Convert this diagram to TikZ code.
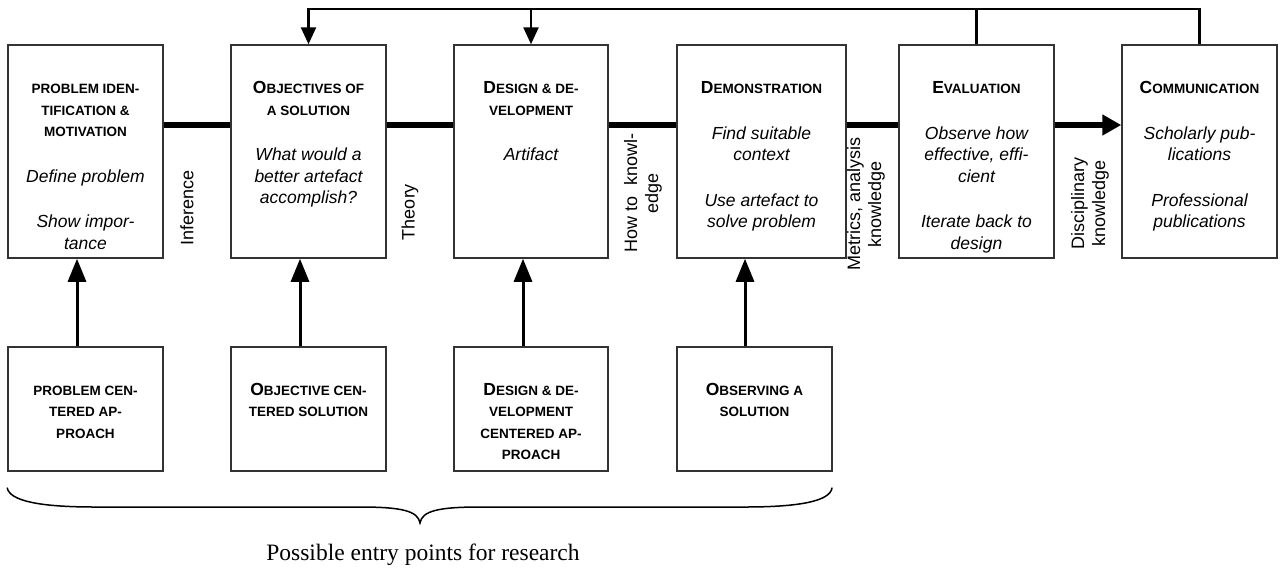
\documentclass[tikz,border=0pt]{standalone}
\usepackage{fontspec}
\setmainfont{Liberation Serif}
\setsansfont{Liberation Sans}
\usetikzlibrary{arrows.meta}

% bold small-caps style headings: optional big first letter, smaller capitals after it
\newcommand\hdfirst[2]{{\upshape\bfseries\fontsize{17.5}{21.5}\selectfont #1\fontsize{13.5}{21.5}\selectfont #2}}
\newcommand\hdall[1]{{\upshape\bfseries\fontsize{13.5}{21.5}\selectfont #1}}
\newcommand\stack[1]{\begin{tabular}[t]{@{}c@{}}#1\end{tabular}}

\begin{document}
\begin{tikzpicture}[x=1pt,y=-1pt,
  box/.style={draw=black!80, line width=1.5pt, inner sep=0pt, minimum height=213pt},
  entry/.style={draw=black!80, line width=1.5pt, inner sep=0pt, minimum height=124pt},
  boxtext/.style={anchor=base, inner sep=0pt, font=\sffamily\itshape\fontsize{17.5}{21.5}\selectfont},
  edge label/.style={rotate=90, align=center, inner sep=0pt, font=\sffamily\fontsize{18}{21}\selectfont},
  flow/.style={line width=6pt},
  feedback/.style={line width=2.5pt, line join=miter},
  downtip/.style={-{Triangle[length=17pt,width=15pt]}},
  uparrow/.style={line width=3pt, -{Triangle[length=23pt,width=18pt]}},
  bracepath/.style={line width=1.5pt, line cap=round}
]
\useasboundingbox (0,0) rectangle (1281,574);

% activity boxes
\node[box, minimum width=155pt] (pim)  at (85.5,151.5) {};
\node[box, minimum width=155pt] (obj)  at (308.5,151.5) {};
\node[box, minimum width=154pt] (dev)  at (531,151.5) {};
\node[box, minimum width=169pt] (demo) at (761.5,151.5) {};
\node[box, minimum width=155pt] (eval) at (976.5,151.5) {};
\node[box, minimum width=155pt] (comm) at (1199.5,151.5) {};

\node[boxtext] (pim-t) at (85.5,93.5) {\stack{\hdall{PROBLEM IDEN-}\\ \hdall{TIFICATION \&}\\ \hdall{MOTIVATION}\\[24pt]
  Define problem\\[24pt] Show impor-\\ tance}};
\node[boxtext] (obj-t) at (308.5,93.5) {\stack{\hdfirst{O}{BJECTIVES OF}\\ \hdall{A SOLUTION}\\[24pt]
  What would a\\ better artefact\\ accomplish?}};
\node[boxtext] (dev-t) at (531,93.5) {\stack{\hdfirst{D}{ESIGN \& DE-}\\ \hdall{VELOPMENT}\\[24pt] Artifact}};
\node[boxtext] (demo-t) at (761.5,93.5) {\stack{\hdfirst{D}{EMONSTRATION}\\[24pt]
  Find suitable\\ context\\[24pt] Use artefact to\\ solve problem}};
\node[boxtext] (eval-t) at (976.5,93.5) {\stack{\hdfirst{E}{VALUATION}\\[24pt]
  Observe how\\ effective, effi-\\ cient\\[24pt] Iterate back to\\ design}};
\node[boxtext] (comm-t) at (1199.5,93.5) {\stack{\hdfirst{C}{OMMUNICATION}\\[24pt]
  Scholarly pub-\\ lications\\[24pt] Professional\\ publications}};

% entry point boxes
\node[entry, minimum width=155pt] (epc)  at (85.5,409) {};
\node[entry, minimum width=155pt] (eob)  at (308.5,409) {};
\node[entry, minimum width=154pt] (edev) at (531,409) {};
\node[entry, minimum width=155pt] (eobs) at (754.5,409) {};

\node[boxtext] (epc-t) at (85.5,395) {\stack{\hdall{PROBLEM CEN-}\\ \hdall{TERED AP-}\\ \hdall{PROACH}}};
\node[boxtext] (eob-t) at (308.5,395) {\stack{\hdfirst{O}{BJECTIVE CEN-}\\ \hdall{TERED SOLUTION}}};
\node[boxtext] (edev-t) at (531,395) {\stack{\hdfirst{D}{ESIGN \& DE-}\\ \hdall{VELOPMENT}\\ \hdall{CENTERED AP-}\\ \hdall{PROACH}}};
\node[boxtext] (eobs-t) at (754.5,395) {\stack{\hdfirst{O}{BSERVING A}\\ \hdall{SOLUTION}}};

% process flow
\coordinate (mainline) at (0,125);
\coordinate (fbk) at (0,9);
\draw[flow] (pim.east |- mainline) -- (obj.west |- mainline);
\draw[flow] (obj.east |- mainline) -- (dev.west |- mainline);
\draw[flow] (dev.east |- mainline) -- (demo.west |- mainline);
\draw[flow] (demo.east |- mainline) -- (eval.west |- mainline);
\draw[flow, -{Triangle[length=19pt,width=20pt]}] (eval.east |- mainline) -- (comm.west |- mainline);

% labels on the flow
\node[edge label] (l-inf) at (187,208) {Inference};
\node[edge label] (l-thy) at (410,212) {Theory};
\node[edge label] (l-how) at (643,193) {How to\hspace{0.6em}knowl-\\ edge};
\node[edge label] (l-met) at (866,204) {Metrics, analysis\\ knowledge};
\node[edge label] (l-dis) at (1090,203) {Disciplinary\\ knowledge};

% iteration loop back
\draw[feedback, downtip] (comm.north) |- (obj.north |- fbk) -- (obj.north);
\draw[feedback] (eval.north) -- (eval.north |- fbk);
\draw[feedback, downtip] (dev.north |- fbk) -- (dev.north);

% entry points feeding the process
\draw[uparrow] ([xshift=-8.5pt]epc.north) -- ([xshift=-8.5pt]pim.south);
\draw[uparrow] ([xshift=-8.5pt]eob.north) -- ([xshift=-8.5pt]obj.south);
\draw[uparrow] ([xshift=-8pt]edev.north) -- ([xshift=-8pt]dev.south);
\draw[uparrow] ([xshift=-9.5pt]eobs.north) -- ([xshift=-9.5pt]eobs.north |- demo.south);

% brace under the entry points
\draw[bracepath] (epc.south west |- 0,488)
  .. controls (10,501) and (40,507) .. (95,507) -- (360,507)
  .. controls (402,507) and (418,511) .. (420,523)
  .. controls (422,511) and (438,507) .. (480,507) -- (745,507)
  .. controls (800,507) and (830,501) .. (832,488);
\node[inner sep=0pt, font=\fontsize{23.5}{28}\selectfont] (caption) at (423,555) {Possible entry points for research};
\end{tikzpicture}
\end{document}
